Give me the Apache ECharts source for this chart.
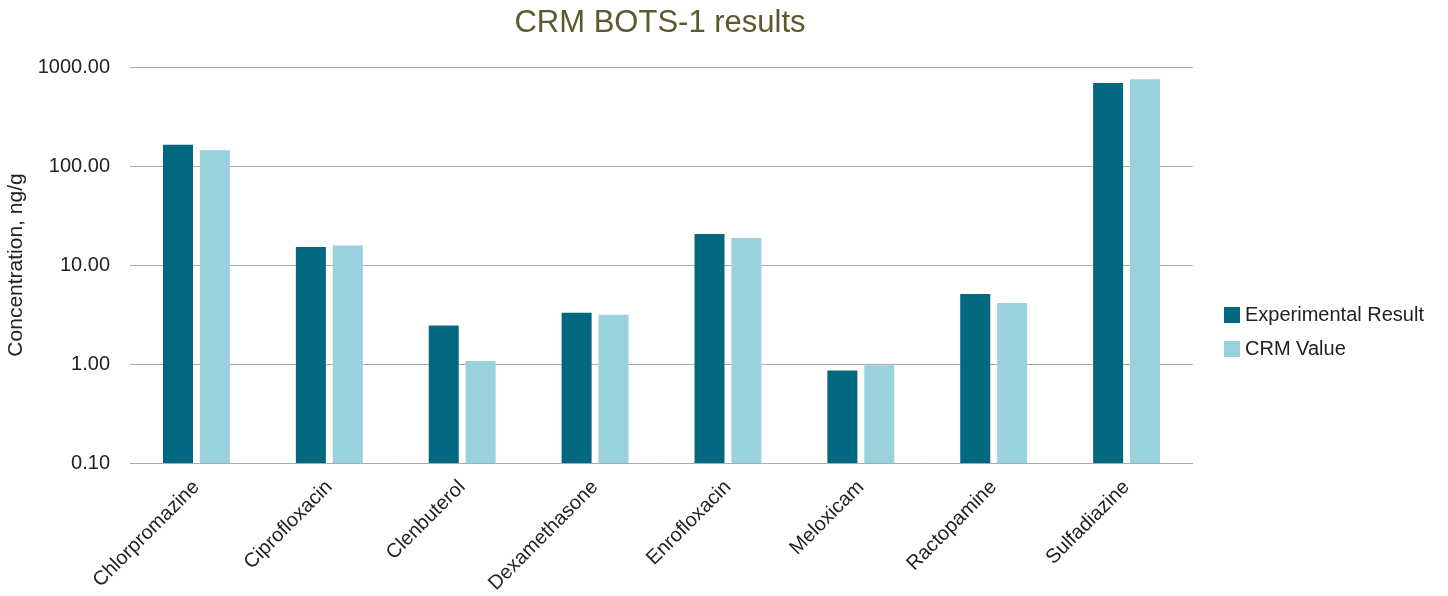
<!DOCTYPE html>
<html>
<head>
<meta charset="utf-8">
<title>CRM BOTS-1 results</title>
<script src="https://cdn.jsdelivr.net/npm/echarts@6/dist/echarts.min.js"></script>
<style>
  html, body { margin: 0; padding: 0; background: #fff; }
  #chart { width: 1448px; height: 596px; }
</style>
</head>
<body>
<div id="chart"></div>
<script>
// data
var categories = ['Chlorpromazine', 'Ciprofloxacin', 'Clenbuterol', 'Dexamethasone',
                  'Enrofloxacin', 'Meloxicam', 'Ractopamine', 'Sulfadiazine'];
var experimental = [164, 15.2, 2.45, 3.30, 20.6, 0.86, 5.1, 689];
var crmValue = [144, 15.7, 1.07, 3.15, 18.7, 0.97, 4.13, 750];

var font = 'Liberation Sans';

var myChart = echarts.init(document.getElementById('chart'));

var option = {
    title: {
        text: 'CRM BOTS-1 results',
        left: 655,
        textAlign: 'center',
        top: 3,
        textStyle: { color: '#5c5a2c', fontSize: 31, fontWeight: 'normal', fontFamily: font }
    },
    legend: {
        orient: 'vertical',
        left: 1219,
        top: 300,
        itemWidth: 16,
        itemHeight: 16,
        itemGap: 14,
        icon: 'rect',
        textStyle: { color: '#222', fontSize: 20, fontFamily: font },
        data: ['Experimental Result', 'CRM Value']
    },
    grid: { left: 130, right: 255, top: 67, bottom: 133, outerBoundsMode: 'none', containLabel: false },
    xAxis: {
        type: 'category',
        data: categories,
        axisTick: { show: false },
        axisLine: { show: false },
        axisLabel: {
            rotate: 45,
            interval: 0,
            margin: 21,
            color: '#222',
            fontSize: 20,
            fontFamily: font
        }
    },
    yAxis: {
        type: 'log',
        logBase: 10,
        min: 0.1,
        max: 1000,
        startValue: 0.1,   // bars grow from the bottom of the log axis
        name: 'Concentration, ng/g',
        nameLocation: 'middle',
        nameRotate: 90,
        nameGap: 98,
        nameTextStyle: { color: '#222', fontSize: 21, fontFamily: font },
        axisLine: { show: false },
        axisTick: { show: false },
        splitLine: { lineStyle: { color: '#ababab', width: 1 } },
        axisLabel: {
            margin: 20,
            color: '#222',
            fontSize: 20,
            fontFamily: font,
            formatter: function (v) { return Number(v).toFixed(2); }
        }
    },
    series: [
        {
            name: 'Experimental Result',
            type: 'bar',
            data: experimental,
            barWidth: 30,
            barGap: '23%',
            itemStyle: { color: '#02687f' }
        },
        {
            name: 'CRM Value',
            type: 'bar',
            data: crmValue,
            barWidth: 30,
            itemStyle: { color: '#99d1dc' }
        }
    ]
};

myChart.setOption(option);
</script>
</body>
</html>
